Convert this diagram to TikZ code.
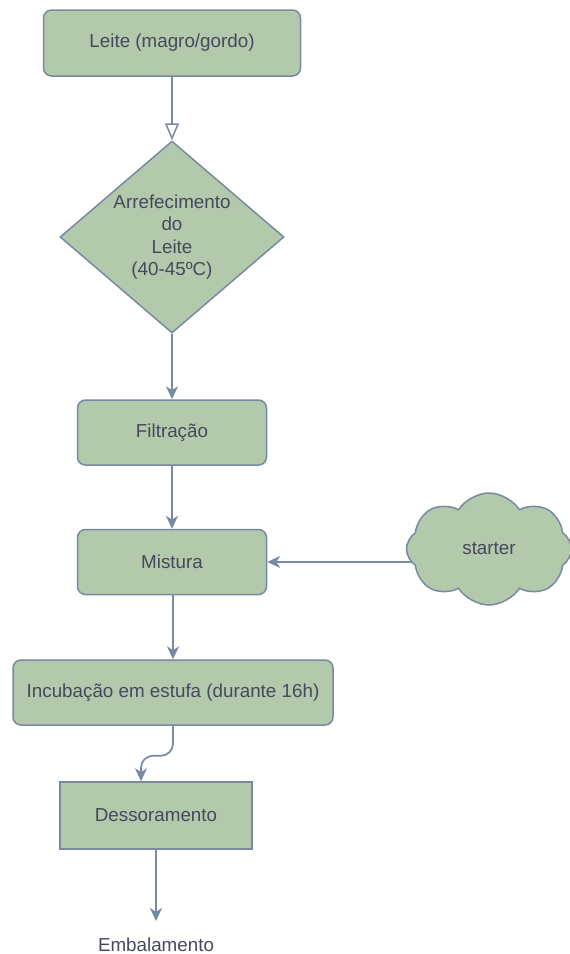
\documentclass[tikz,border=0pt]{standalone}
\usepackage{fontspec}
\setmainfont{Liberation Sans}
\usetikzlibrary{arrows.meta,shapes.geometric,shapes.symbols,backgrounds,calc}
\definecolor{boxfill}{HTML}{B2C9AB}
\definecolor{boxline}{HTML}{788AA3}
\definecolor{txt}{HTML}{46495D}
\begin{document}
\begin{tikzpicture}[x=1pt,y=-1pt,
  every node/.style={font=\fontsize{18.8}{22.5}\selectfont, text=txt},
  shapebase/.style={draw=boxline, fill=boxfill, line width=1.5pt, inner sep=0pt},
  proc/.style={shapebase, rounded corners=8pt},
  conn/.style={draw=boxline, line width=1.7pt, -{Stealth[length=13pt,width=12pt,inset=4pt]}},
  openconn/.style={draw=boxline, line width=1.5pt, -{Triangle[open,length=17pt,width=14pt]}},
]
\useasboundingbox (0,0) rectangle (570,954);
\node[proc, minimum width=257pt, minimum height=66pt] (leite) at (172,43) {Leite (magro/gordo)};
\node[shapebase, shape=diamond, aspect=1.16, minimum width=224pt, minimum height=192pt, align=center] (arref) at (172,237) {Arrefecimento\\do\\Leite\\(40-45ºC)};
\node[proc, minimum width=189pt, minimum height=65pt] (filt) at (172,432.5) {Filtração};
\node[proc, minimum width=189pt, minimum height=65pt] (mist) at (172,562) {Mistura};
\node[shapebase, cloud, cloud puffs=8, cloud puff arc=115, aspect=1.5, minimum width=165pt, minimum height=112pt] (starter) at (489,549) {starter};
\node[proc, minimum width=320pt, minimum height=65pt] (inc) at (173,692.5) {Incubação em estufa (durante 16h)};
\node[shapebase, minimum width=192pt, minimum height=67pt] (dess) at (156,815.5) {Dessoramento};
\node (emb) at (156,945) {Embalamento};
\coordinate (desstop) at ($(dess.north)+(-15,0)$);
\coordinate (embtip) at (156,921);
\begin{scope}[on background layer]
\draw[openconn] (leite.south) -- (arref.north);
\draw[conn] (arref.south) -- (filt.north);
\draw[conn] (filt.south) -- (mist.north);
\draw[conn] ([xshift=10pt]starter.west |- mist.east) -- (mist.east);
\draw[conn] (mist.south -| inc.north) -- (inc.north);
\draw[conn, rounded corners=12pt] (inc.south) -- ++(0,30) -| (desstop);
\draw[conn] (dess.south) -- (embtip);
\end{scope}
\end{tikzpicture}
\end{document}
